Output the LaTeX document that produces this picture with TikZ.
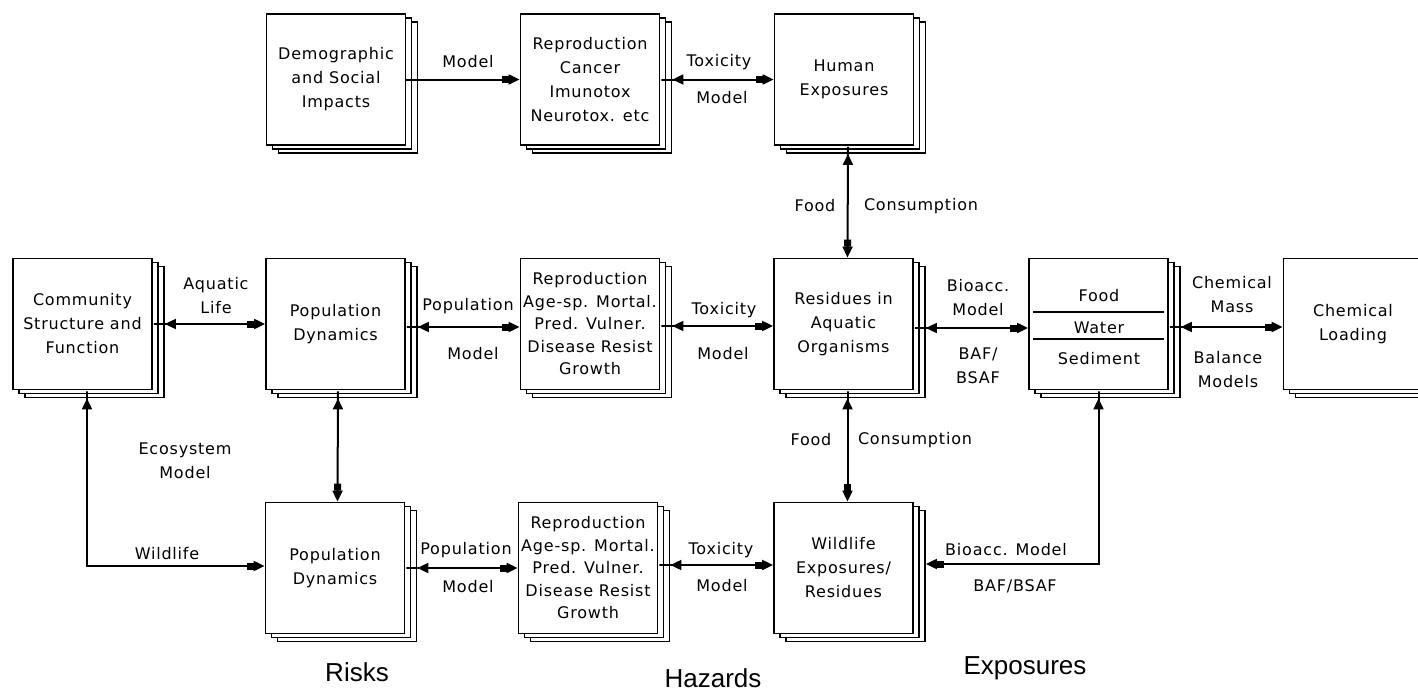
\documentclass[tikz,border=0pt]{standalone}
\usepackage{fontspec}
\newfontfamily\boxfont[LetterSpace=5]{DejaVu Sans}
\newfontfamily\capfont{Liberation Sans}
\usetikzlibrary{arrows.meta}
\begin{document}
\begin{tikzpicture}[x=1pt,y=-1pt,
  txt/.style={font=\boxfont\fontsize{16}{24}\selectfont, align=center, inner sep=0pt},
  tight/.style={font=\boxfont\fontsize{16}{22.5}\selectfont},
  box/.style={txt, draw, fill=white, line width=1.8pt,
    minimum width=139pt, minimum height=131pt,
    preaction={draw, fill=white, line width=1.6pt, transform canvas={xshift=12pt,yshift=-8pt}},
    preaction={draw, fill=white, line width=1.6pt, transform canvas={xshift=6pt,yshift=-4pt}}},
  lab/.style={txt},
  zone/.style={font=\capfont\fontsize{26}{30}\selectfont, inner sep=0pt},
  wire/.style={line width=2pt},
  oneway/.style={wire, arrows={-{Square[length=7pt,width=7pt]Triangle[length=11pt,width=10pt]}}},
  hconn/.style={wire, arrows={{Square[length=12pt,width=2pt]Triangle[length=11pt,width=10pt]}-{Square[length=7pt,width=7pt]Triangle[length=11pt,width=10pt]}}},
  vconn/.style={wire, arrows={{Square[length=8pt,width=2pt]Triangle[length=11pt,width=10pt]}-{Square[length=7pt,width=7pt]Triangle[length=11pt,width=10pt]}}},
]
\clip (0,0) rectangle (1418,693);
\fill[white] (0,0) rectangle (1418,693);

% top row
\node[box] (demo)  at (336,79.5) {Demographic\\and Social\\Impacts};
\node[box] (reprT) at (590,79.5) {Reproduction\\Cancer\\Imunotox\\Neurotox. etc};
\node[box] (human) at (844,79.5) {Human\\Exposures};

% middle row
\node[box] (comm)  at (82.5,324) {Community\\Structure and\\Function};
\node[box] (popM)  at (335.5,324) {Population\\Dynamics};
\node[box,tight] (reprM) at (590,324) {Reproduction\\Age-sp. Mortal.\\Pred. Vulner.\\Disease Resist\\Growth};
\node[box] (resid) at (843.5,324) {Residues in\\Aquatic\\Organisms};
\node[box] (fws)   at (1098.5,324) {};
\node[box] (chem)  at (1353,324) {Chemical\\Loading};

% compartments of the food / water / sediment box
\draw[line width=1.5pt] ([xshift=5pt,yshift=12pt]fws.west) -- ([xshift=-5pt,yshift=12pt]fws.east);
\draw[line width=1.5pt] ([xshift=5pt,yshift=-15pt]fws.west) -- ([xshift=-5pt,yshift=-15pt]fws.east);
\node[lab] (food)  at (1099,296) {Food};
\node[lab] (water) at (1099,328) {Water};
\node[lab] (sedi)  at (1099,359) {Sediment};

% bottom row
\node[box] (popB)  at (335,568) {Population\\Dynamics};
\node[box,tight] (reprB) at (588,568) {Reproduction\\Age-sp. Mortal.\\Pred. Vulner.\\Disease Resist\\Growth};
\node[box] (wild)  at (843.5,568) {Wildlife\\Exposures/\\Residues};

% connectors
\draw[oneway] (demo.east) -- (reprT.west);
\draw[hconn] (reprT.east) -- (human.west);
\draw[vconn] ([xshift=4pt]human.south) -- ([xshift=4pt]resid.north);
\draw[hconn] (comm.east) -- (popM.west);
\draw[hconn] ([yshift=-3pt]popM.east) -- ([yshift=-3pt]reprM.west);
\draw[hconn] ([yshift=-2pt]reprM.east) -- ([yshift=-2pt]resid.west);
\draw[hconn] ([yshift=-4pt]resid.east) -- ([yshift=-4pt]fws.west);
\draw[hconn] ([yshift=-3pt]fws.east) -- ([yshift=-3pt]chem.west);
\draw[vconn] ([xshift=2.5pt]popM.south) -- ([xshift=2.5pt]popB.north);
\draw[vconn] ([xshift=4pt]resid.south) -- ([xshift=4pt]wild.north);
\draw[vconn] ([xshift=4.5pt]comm.south) |- ([yshift=2pt]popB.west);
\draw[hconn] (popB.east) -- (reprB.west);
\draw[hconn] ([yshift=3pt]reprB.east) -- ([yshift=3pt]wild.west);
\draw[vconn] (fws.south) |- ([xshift=12pt,yshift=4pt]wild.east);

% connector labels
\node[lab] (l1)  at (468,62) {Model};
\node[lab] (l2)  at (719,62) {Toxicity};
\node[lab] (l3)  at (722,98) {Model};
\node[lab] (l4)  at (815,206) {Food};
\node[lab] (l5)  at (921,206) {Consumption};
\node[lab] (l6)  at (216,296) {Aquatic\\Life};
\node[lab] (l7)  at (468,306) {Population};
\node[lab] (l8)  at (473,354) {Model};
\node[lab] (l9)  at (724,310) {Toxicity};
\node[lab] (l10) at (723,354) {Model};
\node[lab] (l11) at (978,298) {Bioacc.\\Model};
\node[lab] (l12) at (978,366) {BAF/\\BSAF};
\node[lab] (l13) at (1232,295) {Chemical\\Mass};
\node[lab] (l14) at (1228,370) {Balance\\Models};
\node[lab] (l15) at (811,440) {Food};
\node[lab] (l16) at (915,440) {Consumption};
\node[lab] (l17) at (185,461) {Ecosystem\\Model};
\node[lab] (l18) at (167,554) {Wildlife};
\node[lab] (l19) at (466,550) {Population};
\node[lab] (l20) at (468,587) {Model};
\node[lab] (l21) at (721,550) {Toxicity};
\node[lab] (l22) at (722,586) {Model};
\node[lab] (l23) at (1006,550) {Bioacc. Model};
\node[lab] (l24) at (1015,586) {BAF/BSAF};

% column headings
\node[zone] (risks) at (357,672) {Risks};
\node[zone] (haz)   at (713,678) {Hazards};
\node[zone] (expo)  at (1025,668) {Exposures};
\end{tikzpicture}
\end{document}
